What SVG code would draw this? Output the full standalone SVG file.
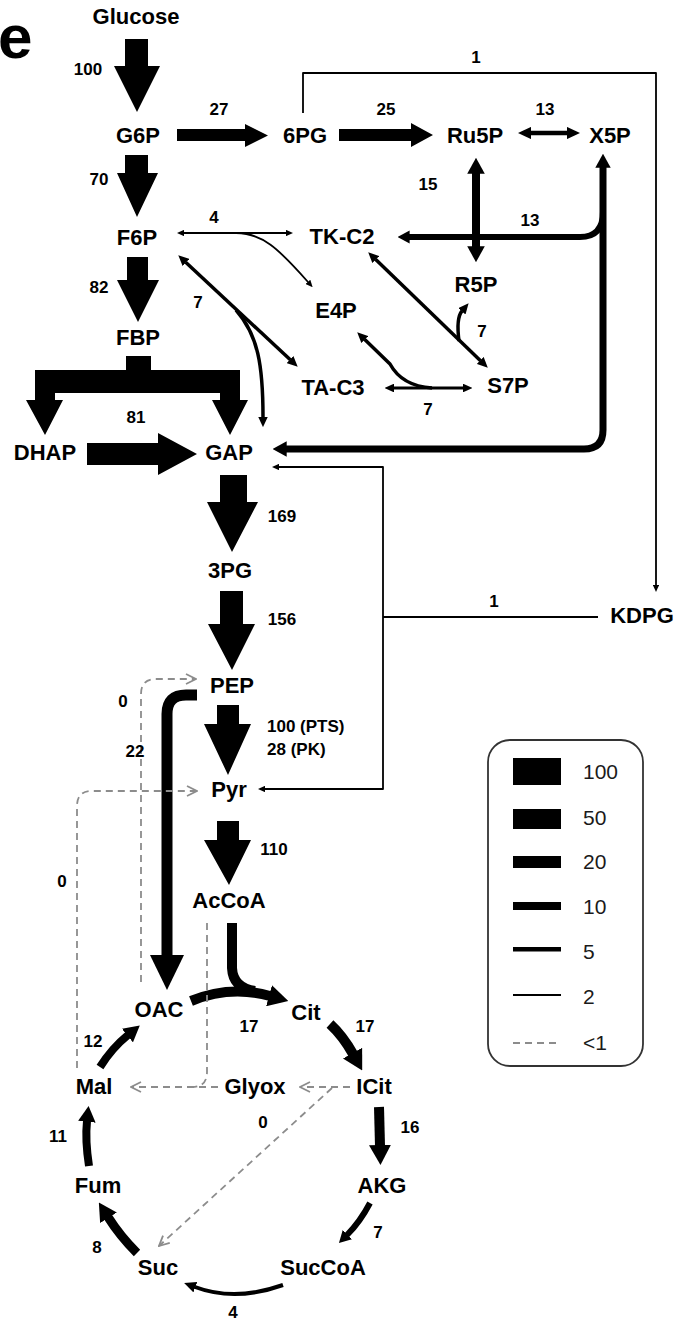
<svg xmlns="http://www.w3.org/2000/svg" width="680" height="1321" viewBox="0 0 680 1321">
<style>
.n{font-family:"Liberation Sans",Arial,Helvetica,sans-serif;font-weight:bold;font-size:22px;text-anchor:middle;fill:#000}
.v{font-family:"Liberation Sans",Arial,Helvetica,sans-serif;font-weight:bold;font-size:17px;text-anchor:middle;fill:#000}
.vs{font-family:"Liberation Sans",Arial,Helvetica,sans-serif;font-weight:bold;font-size:17px;text-anchor:start;fill:#000}
.lg{font-family:"Liberation Sans",Arial,sans-serif;font-size:21px;fill:#1a1a1a}
.blk{fill:#000}
.k{fill:none;stroke:#000;stroke-linecap:butt;stroke-linejoin:round}
.d{fill:none;stroke:#8c8c8c;stroke-width:1.8;stroke-dasharray:7 5}
</style>
<defs>
<marker id="hk" viewBox="0 0 20 22" markerWidth="2" markerHeight="2.2" refX="1" refY="11" markerUnits="strokeWidth" orient="auto-start-reverse"><path d="M0,0 L20,11 L0,22 z" fill="#000"/></marker>
<marker id="hm" viewBox="0 0 30 28" markerWidth="3" markerHeight="2.8" refX="1" refY="14" markerUnits="strokeWidth" orient="auto-start-reverse"><path d="M0,0 L30,14 L0,28 z" fill="#000"/></marker>
<marker id="ht" viewBox="0 0 40 36" markerWidth="4" markerHeight="3.6" refX="1" refY="18" markerUnits="strokeWidth" orient="auto-start-reverse"><path d="M0,0 L40,18 L0,36 z" fill="#000"/></marker>
<marker id="hc" viewBox="0 0 12 12" markerWidth="12" markerHeight="12" refX="11" refY="6" markerUnits="userSpaceOnUse" orient="auto"><path d="M1,1 L11,6 L1,11" fill="none" stroke="#8c8c8c" stroke-width="1.8"/></marker>
</defs>
<rect width="680" height="1321" fill="#fff"/>
<text x="-2" y="58" font-family="Liberation Sans,Arial,sans-serif" font-weight="bold" font-size="62">e</text>

<g id="connectors">
  <!-- block arrows -->
  <polygon class="blk" points="125,39 148,39 148,66 160,66 137,112 114,66 125,66"/>
  <polygon class="blk" points="125,155 148,155 148,173 158,173 137,217 117,173 125,173"/>
  <polygon class="blk" points="127,257 148,257 148,280 159,280 138,322 117,280 127,280"/>
  <polygon class="blk" points="177,129 245,129 245,124 268,135.5 245,147 245,141 177,141"/>
  <polygon class="blk" points="339,129 411,129 411,123 433,135 411,147 411,141 339,141"/>
  <polygon class="blk" points="126,356 151,356 151,370 240,370 240,400 248,400 230,435 212,400 220,400 220,393 55,393 55,400 63,400 45,435 26,400 35,400 35,370 126,370"/>
  <polygon class="blk" points="87,443 158,443 158,433 197,454 158,475 158,465 87,465"/>
  <polygon class="blk" points="220,475 247,475 247,502 258,502 232,552 207,502 220,502"/>
  <polygon class="blk" points="220,591 243,591 243,624 255,624 232,670 208,624 220,624"/>
  <polygon class="blk" points="217,705 239,705 239,724 251,724 228,775 204,724 217,724"/>
  <polygon class="blk" points="217,821 239,821 239,840 251,840 229,885 204,840 217,840"/>

  <!-- pentose phosphate -->
  <path class="k" stroke-width="4.5" d="M531 133 L567 133" marker-start="url(#hm)" marker-end="url(#hm)"/>
  <path class="k" stroke-width="8" d="M476 173 L476 247" marker-start="url(#hk)" marker-end="url(#hk)"/>
  <path class="k" stroke-width="7" d="M603 167 L603 430 Q603 449 584 449 L286 449" marker-start="url(#hk)" marker-end="url(#hk)"/>
  <path class="k" stroke-width="6" d="M603 212 Q603 237 580 237 L409 237" marker-end="url(#hk)"/>
  <path class="k" stroke-width="3.5" d="M375.5 259.3 L480.5 360.7" marker-start="url(#hm)" marker-end="url(#hm)"/>
  <path class="k" stroke-width="3.5" d="M459 341 Q456 318 462 311" marker-end="url(#hm)"/>
  <path class="k" stroke-width="1.8" d="M184 233 L286 233" marker-start="url(#ht)" marker-end="url(#ht)"/>
  <path class="k" stroke-width="1.8" d="M236 233 C262 233 278 248 308 282" marker-end="url(#ht)"/>
  <path class="k" stroke-width="3.5" d="M185.7 262.2 L290.3 359.8" marker-start="url(#hm)" marker-end="url(#hm)"/>
  <path class="k" stroke-width="3.5" d="M236 310 C258 335 263 365 263 417" marker-end="url(#hm)"/>
  <path class="k" stroke-width="3.5" d="M364.5 339.3 L390 364 Q402 386 432 388" marker-start="url(#hm)"/>
  <path class="k" stroke-width="3.2" d="M394 388 L463 388" marker-start="url(#hm)" marker-end="url(#hm)"/>
  <path class="k" stroke-width="1.8" d="M303 113 L303 73 L656 73 L656 585" marker-end="url(#ht)"/>

  <!-- ED pathway to GAP / Pyr -->
  <path class="k" stroke-width="1.8" d="M279 467 L383 467 L383 789 L265 789" marker-start="url(#ht)" marker-end="url(#ht)" stroke-linejoin="miter"/>
  <path class="k" stroke-width="1.8" d="M598 617 L383 617"/>

  <!-- anaplerotic / TCA -->
  <path class="k" stroke-width="11" d="M197 695 L186 695 Q167 695 167 714 L167 955"/>
  <polygon class="blk" points="150,955 184,955 167,990"/>
  <path class="k" stroke-width="10" d="M232 923 L232 968 Q233 988 255 991"/>
  <path class="k" stroke-width="10" d="M191 1001 Q230 985 270 996" marker-end="url(#hk)"/>
  <path class="k" stroke-width="10" d="M330 1024 Q343 1036 353 1054" marker-end="url(#hk)"/>
  <path class="k" stroke-width="10" d="M379 1107 L380 1146" marker-end="url(#hk)"/>
  <path class="k" stroke-width="6" d="M370 1203 Q360 1222 347 1235" marker-end="url(#hk)"/>
  <path class="k" stroke-width="4" d="M283 1285 Q235 1302 195 1287" marker-end="url(#hm)"/>
  <path class="k" stroke-width="9" d="M137 1253 Q120 1236 108 1217" marker-end="url(#hk)"/>
  <path class="k" stroke-width="8" d="M89 1166 Q85 1140 87 1121" marker-end="url(#hk)"/>
  <path class="k" stroke-width="8" d="M100 1067 Q112 1048 128 1035" marker-end="url(#hk)"/>

  <!-- dashed (<1) -->
  <path class="d" d="M141 982 L141 694 Q141 679 156 679 L196 679" marker-end="url(#hc)"/>
  <path class="d" d="M77 1068 L77 806 Q77 791 92 791 L197 791" marker-end="url(#hc)"/>
  <path class="d" d="M207 923 L207 1072 Q207 1087 192 1087"/>
  <path class="d" d="M218 1087 L131 1087" marker-end="url(#hc)"/>
  <path class="d" d="M350 1087 L300 1087" marker-end="url(#hc)"/>
  <path class="d" d="M332 1088 L159 1246" marker-end="url(#hc)"/>
</g>

<g id="flux-labels">
  <text class="v" x="88" y="75">100</text>
  <text class="v" x="219" y="115">27</text>
  <text class="v" x="386" y="115">25</text>
  <text class="v" x="545" y="115">13</text>
  <text class="v" x="476" y="63">1</text>
  <text class="v" x="99" y="185">70</text>
  <text class="v" x="428" y="190">15</text>
  <text class="v" x="530" y="226">13</text>
  <text class="v" x="214" y="223">4</text>
  <text class="v" x="99" y="293">82</text>
  <text class="v" x="198" y="308">7</text>
  <text class="v" x="482" y="337">7</text>
  <text class="v" x="428" y="415">7</text>
  <text class="v" x="136" y="423">81</text>
  <text class="v" x="282" y="522">169</text>
  <text class="v" x="282" y="625">156</text>
  <text class="v" x="494" y="607">1</text>
  <text class="v" x="123" y="707">0</text>
  <text class="v" x="135" y="757">22</text>
  <text class="vs" x="267" y="732">100 (PTS)</text>
  <text class="vs" x="267" y="755">28 (PK)</text>
  <text class="v" x="62" y="887">0</text>
  <text class="v" x="274" y="855">110</text>
  <text class="v" x="249" y="1032">17</text>
  <text class="v" x="365" y="1032">17</text>
  <text class="v" x="93" y="1047">12</text>
  <text class="v" x="410" y="1133">16</text>
  <text class="v" x="263" y="1128">0</text>
  <text class="v" x="58" y="1142">11</text>
  <text class="v" x="378" y="1238">7</text>
  <text class="v" x="97" y="1253">8</text>
  <text class="v" x="233" y="1318">4</text>
</g>

<g id="node-Glucose"><text class="n" x="136" y="24">Glucose</text></g>
<g id="node-G6P"><text class="n" x="138" y="143">G6P</text></g>
<g id="node-6PG"><text class="n" x="305" y="143">6PG</text></g>
<g id="node-Ru5P"><text class="n" x="475" y="143">Ru5P</text></g>
<g id="node-X5P"><text class="n" x="610" y="143">X5P</text></g>
<g id="node-F6P"><text class="n" x="137" y="245">F6P</text></g>
<g id="node-TK-C2"><text class="n" x="342" y="244">TK-C2</text></g>
<g id="node-E4P"><text class="n" x="336" y="318">E4P</text></g>
<g id="node-R5P"><text class="n" x="476" y="292">R5P</text></g>
<g id="node-FBP"><text class="n" x="138" y="345">FBP</text></g>
<g id="node-TA-C3"><text class="n" x="333" y="395">TA-C3</text></g>
<g id="node-S7P"><text class="n" x="508" y="393">S7P</text></g>
<g id="node-DHAP"><text class="n" x="45" y="460">DHAP</text></g>
<g id="node-GAP"><text class="n" x="229" y="460">GAP</text></g>
<g id="node-3PG"><text class="n" x="230" y="578">3PG</text></g>
<g id="node-KDPG"><text class="n" x="642" y="623">KDPG</text></g>
<g id="node-PEP"><text class="n" x="232" y="693">PEP</text></g>
<g id="node-Pyr"><text class="n" x="229" y="797">Pyr</text></g>
<g id="node-AcCoA"><text class="n" x="229" y="908">AcCoA</text></g>
<g id="node-OAC"><text class="n" x="159" y="1017">OAC</text></g>
<g id="node-Cit"><text class="n" x="306" y="1020">Cit</text></g>
<g id="node-Mal"><text class="n" x="94" y="1094">Mal</text></g>
<g id="node-Glyox"><text class="n" x="255" y="1094">Glyox</text></g>
<g id="node-ICit"><text class="n" x="374" y="1094">ICit</text></g>
<g id="node-Fum"><text class="n" x="98" y="1193">Fum</text></g>
<g id="node-AKG"><text class="n" x="382" y="1193">AKG</text></g>
<g id="node-Suc"><text class="n" x="158" y="1275">Suc</text></g>
<g id="node-SucCoA"><text class="n" x="323" y="1275">SucCoA</text></g>

<g id="legend">
  <rect x="488" y="740" width="155" height="326" rx="22" fill="none" stroke="#333" stroke-width="1.8"/>
  <rect x="513" y="758" width="48" height="27" fill="#000"/>
  <rect x="513" y="809" width="48" height="20" fill="#000"/>
  <rect x="513" y="856" width="48" height="12" fill="#000"/>
  <rect x="513" y="902" width="48" height="8" fill="#000"/>
  <rect x="513" y="947" width="48" height="4.5" fill="#000"/>
  <rect x="513" y="994" width="48" height="2" fill="#000"/>
  <line x1="513" y1="1043" x2="561" y2="1043" stroke="#8c8c8c" stroke-width="1.8" stroke-dasharray="7 5"/>
  <text class="lg" x="583" y="779">100</text>
  <text class="lg" x="583" y="825">50</text>
  <text class="lg" x="583" y="869">20</text>
  <text class="lg" x="583" y="914">10</text>
  <text class="lg" x="583" y="959">5</text>
  <text class="lg" x="583" y="1004">2</text>
  <text class="lg" x="583" y="1050">&lt;1</text>
</g>
</svg>
